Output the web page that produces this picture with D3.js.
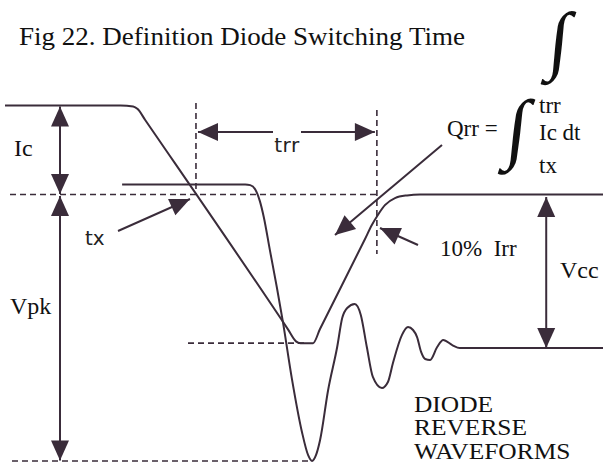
<!DOCTYPE html>
<html><head><meta charset="utf-8">
<script src="https://cdn.jsdelivr.net/npm/d3@7"></script>
<style>body{margin:0;background:#fff}svg{display:block}</style>
</head><body>
<svg id="chart" width="603" height="468"></svg>
<script>
// ---- Data (time in ns, current in units of Ic, voltage in units of Vcc) ----
const currentTime  = [1.0, 24.0, 26.5, 27.4, 28.86, 57.31, 58.9, 59.8, 62.3, 63.68, 72.64, 74.0, 75.2, 76.6, 78.6, 81.0, 83.6, 120];
const currentValue = [1.0, 1.0, 0.99, 0.96, 0.84, -1.515, -1.65, -1.67, -1.67, -1.511, -0.5, -0.343, -0.23, -0.12, -0.04, -0.01, 0, 0];

const voltageTime  = [24.3, 48.8, 49.8, 50.8, 51.7, 52.5, 53.7, 55.1, 56.3, 58.1, 60.1, 61.3, 62.1, 62.9, 63.7, 65.3, 67.1, 68.1, 69.1, 70.6, 71.8, 73.0, 74.2, 76.0, 77.2, 78.2, 80.0, 81.2, 82.2, 83.0, 83.8, 84.6, 85.6, 87.0, 88.2, 90.0, 91.5, 120];
const voltageValue = [0, 0, 0.004, 0.03, 0.10, 0.20, 0.40, 0.630, 0.840, 1.190, 1.515, 1.654, 1.691, 1.654, 1.563, 1.257, 0.994, 0.817, 0.755, 0.731, 0.798, 0.994, 1.177, 1.245, 1.208, 1.092, 0.920, 0.872, 0.890, 0.933, 1.024, 1.067, 1.073, 0.994, 0.951, 0.982, 1.0, 1.0];

const levelNames  = ["Ic", "Irr", "Vcc", "Vpk"];
const levelValues = [1, -1.67, 1, 1.691];
const timeNames   = ["tx", "trrEnd"];
const timeValues  = [39.0, 75.0];

const titleText = "Fig 22. Definition Diode Switching Time";
const noteLines = ["DIODE", "REVERSE", "WAVEFORMS"];
const formulaLines = ["trr", "Ic dt", "tx"];

// ---- Setup ----
const W = 603, H = 468;
const ink = "#3a2c3a";
const serif = "'Liberation Serif','Times New Roman',serif";
const sans = "'DejaVu Sans',sans-serif";
const svg = d3.select("#chart");

const x  = d3.scaleLinear().domain([0, 120]).range([0, W]);
const yI = d3.scaleLinear().domain([0, 1]).range([194.5, 105.5]);
const yV = d3.scaleLinear().domain([0, 1]).range([184.5, 348]);

const lv = n => levelValues[levelNames.indexOf(n)];
const tv = n => timeValues[timeNames.indexOf(n)];

const tx = x(tv("tx")), tEnd = x(tv("trrEnd"));
const yZero = yI(0), yIc = yI(lv("Ic")), yIrr = yI(lv("Irr"));
const yVcc = yV(lv("Vcc")), yVpk = yV(lv("Vpk"));

// ---- Dashed reference lines ----
const dash = svg.append("g").attr("stroke", ink).attr("stroke-width", 1.6)
  .attr("stroke-dasharray", "6,4").attr("fill", "none");
dash.append("line").attr("x1", 10).attr("x2", tEnd).attr("y1", yZero).attr("y2", yZero);
dash.append("line").attr("x1", 188).attr("x2", 306).attr("y1", yIrr).attr("y2", yIrr);
dash.append("line").attr("x1", 12).attr("x2", 312).attr("y1", yVpk).attr("y2", yVpk);
dash.append("line").attr("x1", tx).attr("x2", tx).attr("y1", 103).attr("y2", yZero);
dash.append("line").attr("x1", tEnd).attr("x2", tEnd).attr("y1", 110).attr("y2", 254);

// ---- Waveforms ----
const curLine = d3.line().x(d => x(d[0])).y(d => yI(d[1])).curve(d3.curveMonotoneX);
const volLine = d3.line().x(d => x(d[0])).y(d => yV(d[1])).curve(d3.curveMonotoneX);
svg.append("path").datum(d3.zip(currentTime, currentValue))
  .attr("d", curLine).attr("fill", "none").attr("stroke", ink).attr("stroke-width", 2);
svg.append("path").datum(d3.zip(voltageTime, voltageValue))
  .attr("d", volLine).attr("fill", "none").attr("stroke", ink).attr("stroke-width", 2);

// ---- Arrows ----
const ag = svg.append("g");
function head(x1, y1, x2, y2, len = 20, hw = 9) {
  const a = Math.atan2(y2 - y1, x2 - x1);
  const bx = x2 - len * Math.cos(a), by = y2 - len * Math.sin(a);
  const px = -Math.sin(a) * hw, py = Math.cos(a) * hw;
  ag.append("path").attr("d", `M${x2},${y2}L${bx + px},${by + py}L${bx - px},${by - py}Z`).attr("fill", ink);
}
function arrow(x1, y1, x2, y2, both) {
  ag.append("line").attr("x1", x1).attr("y1", y1).attr("x2", x2).attr("y2", y2)
    .attr("stroke", ink).attr("stroke-width", 2);
  head(x1, y1, x2, y2);
  if (both) head(x2, y2, x1, y1);
}
arrow(60, yIc + 1, 60, yZero - 0.5, true);          // Ic
arrow(60, yZero + 1.5, 60, yVpk - 0.5, true);       // Vpk
arrow(273, 132, tx + 2, 132, false);               // trr left
arrow(301, 132, tEnd - 2, 132, false);             // trr right
arrow(x(108.7), yZero + 2.5, x(108.7), yVcc, true); // Vcc
arrow(118, 231, 190, 199, false);                  // tx
arrow(442, 145, 335, 235, false);                  // Qrr
arrow(418, 245, 380, 228, false);                  // 10% Irr

// ---- Text ----
function t(str, px, py, size, fam, anchor) {
  return svg.append("text").attr("x", px).attr("y", py).attr("font-size", size)
    .attr("font-family", fam).attr("fill", "#111").attr("text-anchor", anchor || "start")
    .style("white-space", "pre").text(str);
}
t(titleText, 19, 45, 25, serif).attr("textLength", 446).attr("lengthAdjust", "spacingAndGlyphs");
t("Ic", 14, 156, 24, serif);
t("Vpk", 10, 314, 24, serif);
t("trr", 287, 152, 20, sans, "middle").attr("fill", "#222").attr("letter-spacing", 0.5);
t("tx", 85, 245, 20, sans).attr("fill", "#222");
t("Qrr =", 447, 136, 23, serif);
formulaLines.forEach((s, i) => t(s, 539, [113, 140, 173][i], 23, serif));
t("10%  Irr", 440, 256, 23, serif);
t("Vcc", 560, 278, 24, serif);

const note = svg.append("text").attr("font-size", 24).attr("font-family", serif).attr("fill", "#111")
  .attr("transform", "translate(414,412) scale(1.06,1)");
note.selectAll("tspan").data(noteLines).join("tspan")
  .attr("x", 0).attr("y", (d, i) => i * 23.5).text(d => d);

// ---- Integral signs, fitted to ink boxes (uniform scale + slant) ----
const ctx = document.createElement("canvas").getContext("2d");
const FS = 100;
const intFont = "'Liberation Serif'";
ctx.font = `${FS}px ${intFont}`;
const m = ctx.measureText("\u222B");
const inkL = m.actualBoundingBoxLeft, inkR = m.actualBoundingBoxRight;
const inkA = m.actualBoundingBoxAscent, inkD = m.actualBoundingBoxDescent;
function integral(bx, by, bw, bh) {
  const s = bh / (inkA + inkD);
  const sx = s * 1.0;
  const w0 = (inkL + inkR) * sx;
  const k = (bw - w0) / bh;
  const ang = -Math.atan(k) * 180 / Math.PI;
  svg.append("text").attr("font-family", intFont).attr("font-size", FS)
    .attr("fill", "#111")
    .attr("transform", `translate(${bx + inkL * sx + k * inkD * s},${by + inkA * s}) skewX(${ang}) scale(${sx},${s})`)
    .text("\u222B");
}
integral(540, 10, 37, 75);
integral(497, 98, 39, 77);
</script>
</body></html>
